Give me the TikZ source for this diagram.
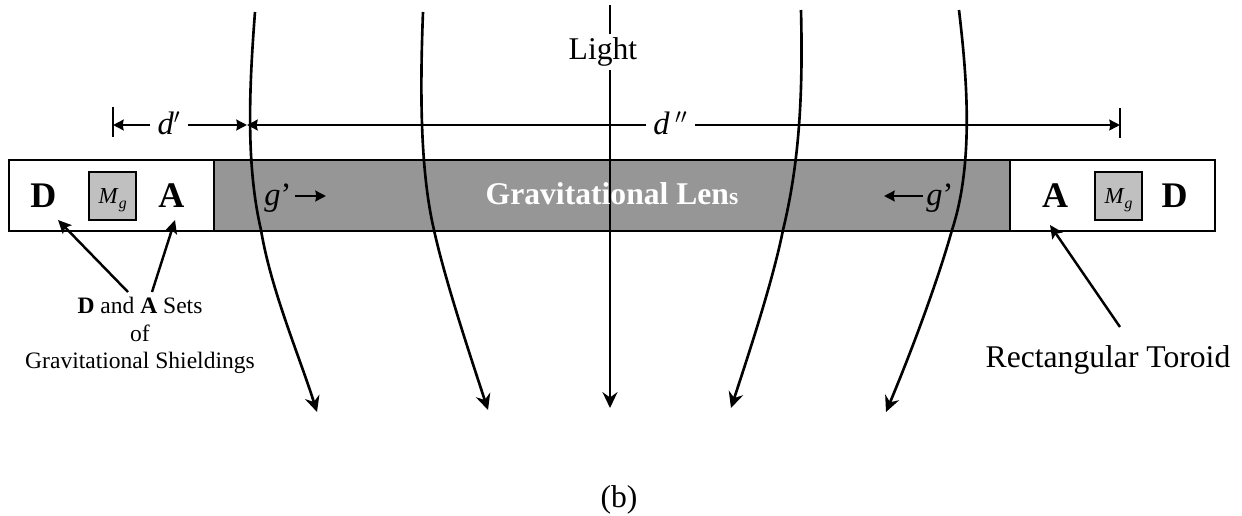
\documentclass[tikz,border=0pt]{standalone}
\usepackage{fontspec}
\setmainfont{Liberation Serif}
\usetikzlibrary{calc, positioning, arrows.meta}
\definecolor{lensGray}{RGB}{150, 150, 150}
\definecolor{massGray}{RGB}{192, 192, 192}
\newcommand{\massLabel}{\textit{M}\raisebox{-3pt}{\fontsize{9}{10}\selectfont\textit{g}}}

\begin{document}
\begin{tikzpicture}[>={Stealth[length=6pt, width=6pt, inset=0.5pt]}, x=0.02cm, y=-0.02cm, line width=1.4pt]
  \tikzset{
    rayline/.style={-{Stealth[length=9pt, width=8.5pt, inset=3pt]}, line width=1.5pt},
    pointer/.style={-{Stealth[length=7.5pt, width=7pt, inset=1.5pt]}},
    setlabel/.style={font=\fontsize{20.5}{24}\selectfont\bfseries, inner sep=1pt},
    massbox/.style={draw, fill=massGray, minimum size=27pt, inner sep=0pt, line width=1.2pt, text depth=0pt, font=\fontsize{13}{16}\selectfont},
    dimlabel/.style={font=\fontsize{18.5}{21}\selectfont\itshape, inner sep=3.5pt},
    biglabel/.style={font=\fontsize{18}{21}\selectfont, inner sep=1.5pt}
  }
  \useasboundingbox (0, 0) rectangle (1242, 515);

  % Toroid and lens
  \draw[fill=lensGray, line width=0.8pt] (214, 160) rectangle (1010, 231);
  \draw (9, 160) rectangle (214, 231);
  \draw (1010, 160) rectangle (1215, 231);

  % Light rays
  \coordinate (r1s) at (255, 12);
  \coordinate (r1m) at (261, 230);
  \coordinate (r1e) at (317, 412);
  \coordinate (r2s) at (423, 12);
  \coordinate (r2m) at (434, 230);
  \coordinate (r2e) at (488, 410);
  \coordinate (r4s) at (801, 10);
  \coordinate (r4m) at (783, 230);
  \coordinate (r4e) at (731, 408);
  \coordinate (r5s) at (959, 10);
  \coordinate (r5m) at (952, 230);
  \coordinate (r5e) at (886, 412);
  \coordinate (r3s) at (610, 5);
  \coordinate (r3e) at (610, 408);
  \draw[rayline] (r1s) .. controls (249, 90) and (246, 165) .. (r1m) .. controls (271, 290) and (299, 355) .. (r1e);
  \draw[rayline] (r2s) .. controls (420, 90) and (420, 170) .. (r2m) .. controls (445, 280) and (470, 355) .. (r2e);
  \draw[rayline] (r4s) .. controls (803, 90) and (800, 160) .. (r4m) .. controls (773, 280) and (750, 350) .. (r4e);
  \draw[rayline] (r5s) .. controls (966, 70) and (975, 160) .. (r5m) .. controls (938, 280) and (912, 350) .. (r5e);
  \node[biglabel] (light) at (603, 52) {Light};
  \draw[line width=1.5pt] (r3s) -- (r3s |- light.north);
  \draw[rayline] (r3s |- light.south) -- (r3e);

  % Distances
  \coordinate (tickA) at (113, 125);
  \coordinate (tickB) at (247, 125);
  \coordinate (tickC) at (1120, 125);
  \draw (113, 107) -- (113, 137);
  \draw (1120, 108) -- (1120, 138);
  \node[dimlabel] (dOne) at (169, 123) {d$'$};
  \node[dimlabel] (dTwo) at (670.5, 123) {d\,$''$};
  \draw[->] (dOne.west |- tickA) -- (tickA);
  \draw[->] (dOne.east |- tickA) -- (tickB);
  \draw[->] (dTwo.west |- tickB) -- (tickB);
  \draw[->] (dTwo.east |- tickC) -- (tickC);

  % Inside the bar
  \node[setlabel] (dLeft) at (43.5, 195.5) {D};
  \node[massbox] (mLeft) at (112.7, 196) {\massLabel};
  \node[setlabel] (aLeft) at (171.5, 195.5) {A};
  \node[setlabel] (aRight) at (1055, 195.5) {A};
  \node[massbox] (mRight) at (1118.5, 196) {\massLabel};
  \node[setlabel] (dRight) at (1174.5, 195.5) {D};
  \node[font=\fontsize{18}{21}\selectfont\bfseries, text=white] (lens) at (612, 194) {Gravitational Len{\fontsize{13.5}{16}\selectfont s}};
  \node[dimlabel, inner sep=1.5pt] (gLeft) at (278, 198) {g\upshape’};
  \node[dimlabel, inner sep=1.5pt] (gRight) at (940, 198) {g\upshape’};
  \coordinate (gLeftEnd) at (326, 196);
  \coordinate (gRightEnd) at (884, 196);
  \draw[->] (gLeft.east |- gLeftEnd) -- (gLeftEnd);
  \draw[->] (gRight.west |- gRightEnd) -- (gRightEnd);

  % Labels below
  \node[font=\fontsize{13.4}{15.7}\selectfont, align=center] (sets) at (140, 335.5) {\textbf{D} and \textbf{A} Sets\\of\\Gravitational Shieldings};
  \node[biglabel] (toroid) at (1108, 360) {Rectangular Toroid};
  \node[biglabel] (cap) at (619, 500) {(b)};
  \coordinate (setsD) at (128, 292);
  \coordinate (setsA) at (152, 292);
  \coordinate (tipD) at (58, 220);
  \coordinate (tipA) at (175, 220);
  \coordinate (toroidStart) at (1120, 327);
  \coordinate (tipT) at (1050, 225);
  \draw[pointer] (setsD) -- (tipD);
  \draw[pointer] (setsA) -- (tipA);
  \draw[pointer] (toroidStart) -- (tipT);
\end{tikzpicture}
\end{document}
